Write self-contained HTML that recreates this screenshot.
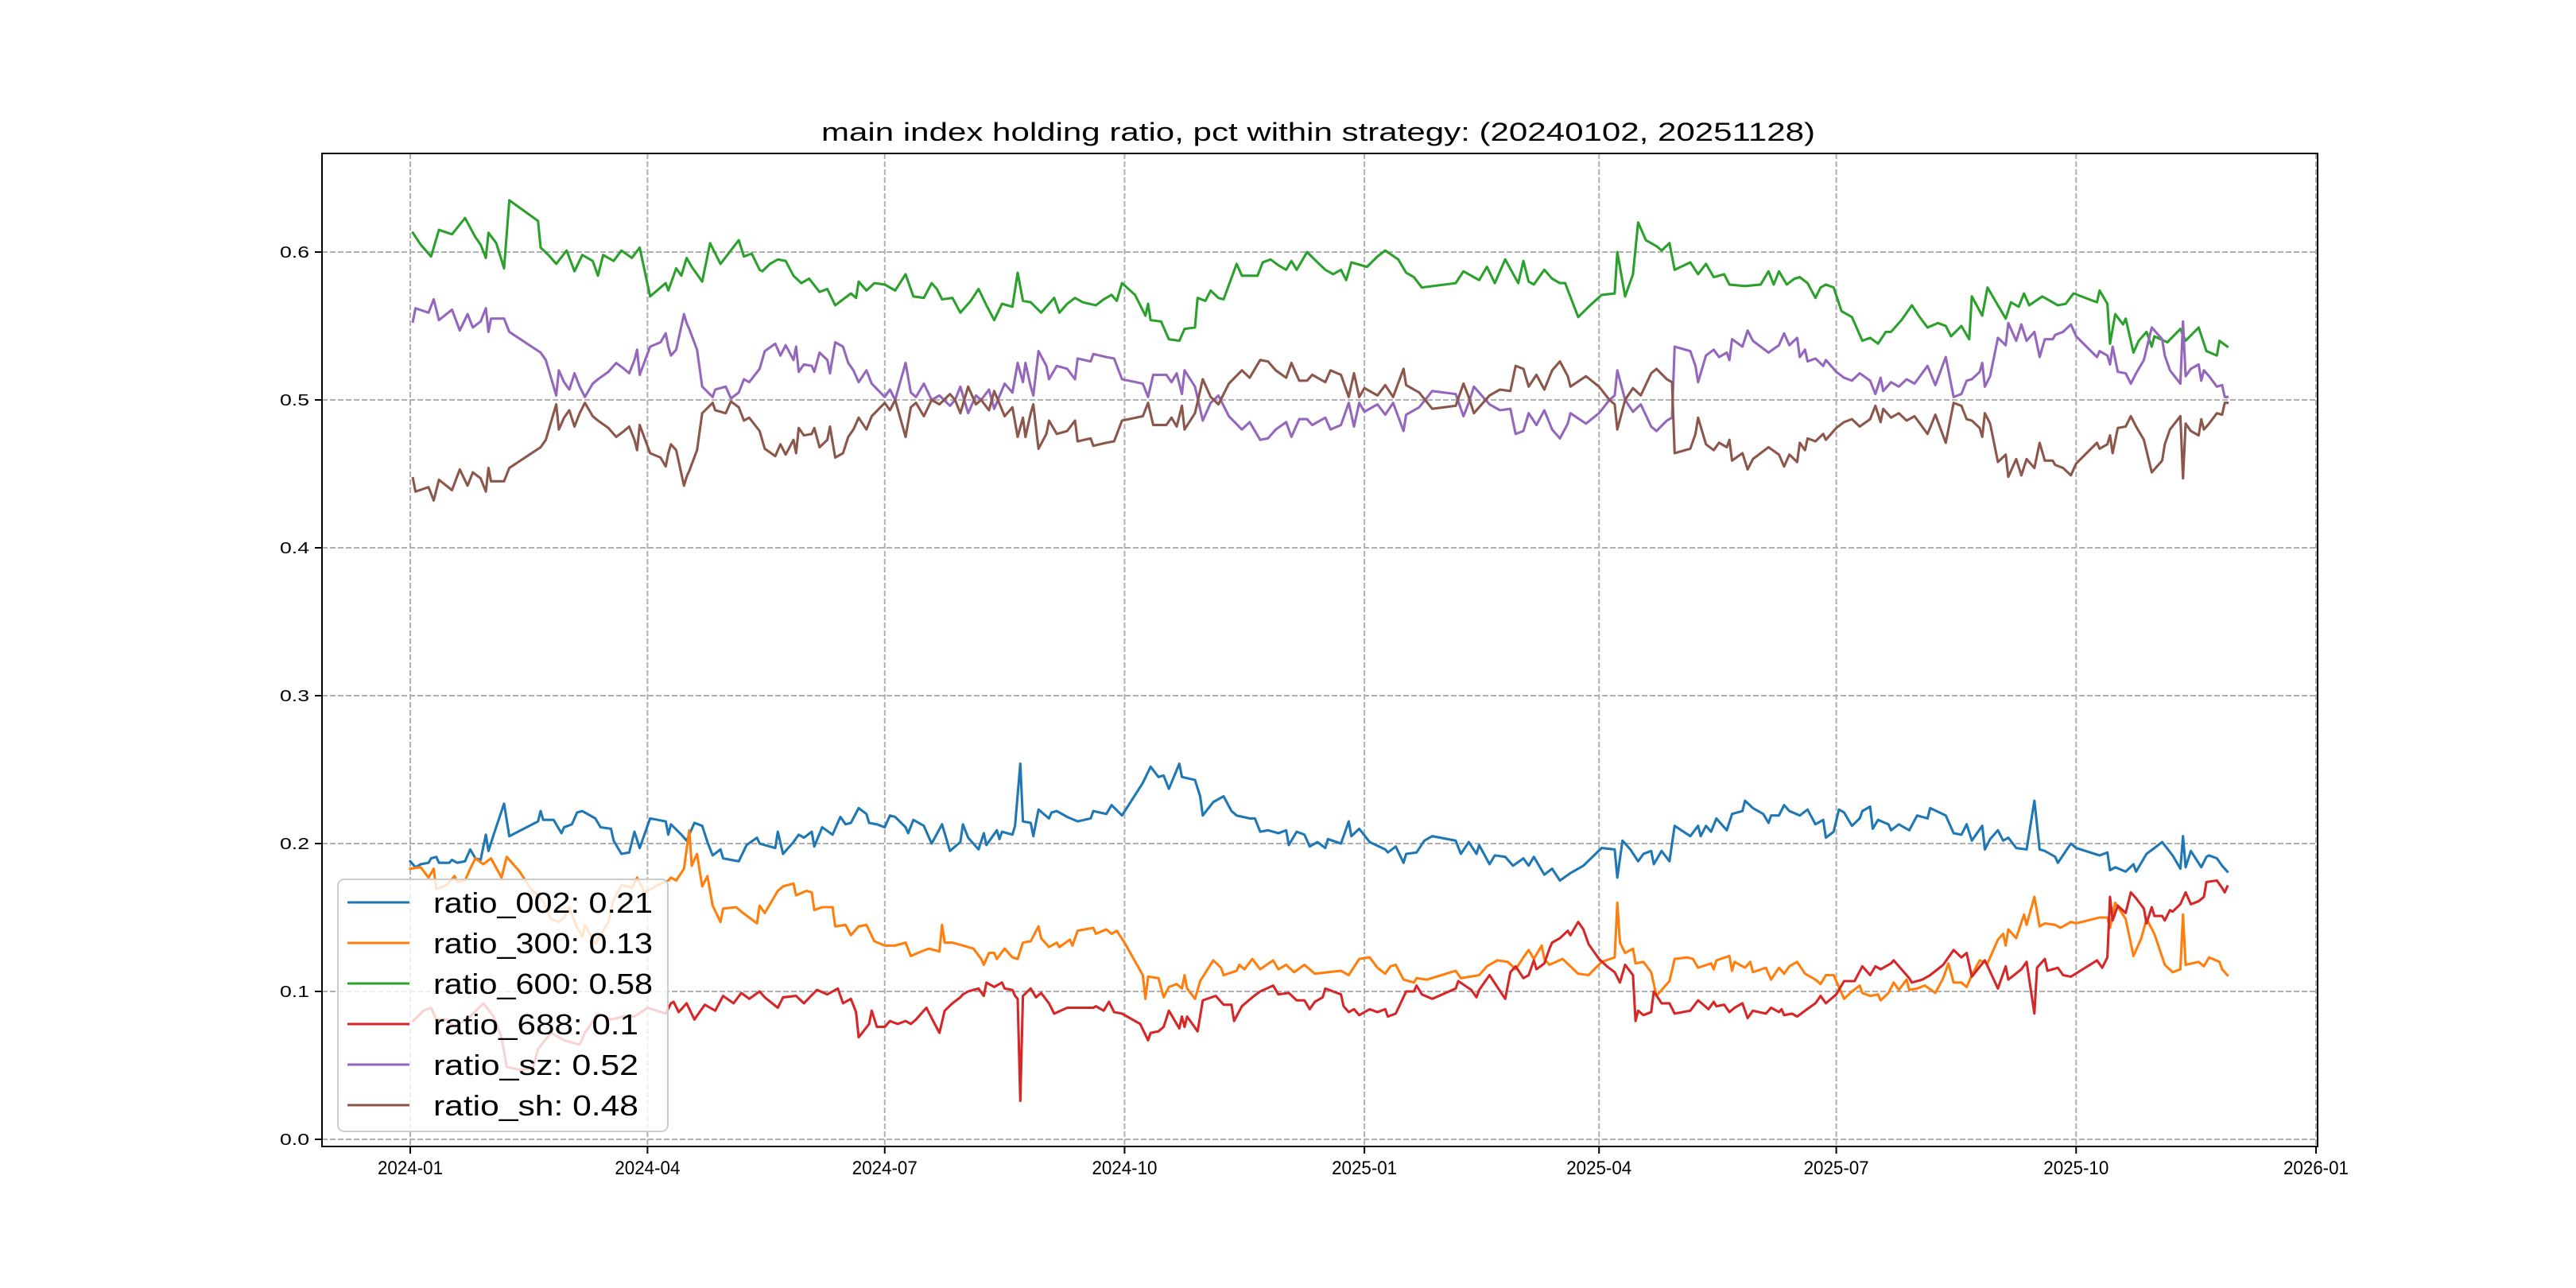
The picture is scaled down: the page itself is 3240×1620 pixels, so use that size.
<!DOCTYPE html>
<html><head><meta charset="utf-8"><title>main index holding ratio</title>
<style>
html,body{margin:0;padding:0;background:#fff;}
svg{display:block;}
text{font-family:"Liberation Sans","WenQuanYi Zen Hei",sans-serif;fill:#000;}
</style></head>
<body>
<svg id="chart" width="3240" height="1620" viewBox="0 0 3240 1620" xmlns="http://www.w3.org/2000/svg">
<rect x="0" y="0" width="3240" height="1620" fill="#fff"/>
<text x="1033" y="177" font-size="32" textLength="1250" lengthAdjust="spacingAndGlyphs">main index holding ratio, pct within strategy: (20240102, 20251128)</text>
<g id="grid"></g>
<g id="series"></g>
<rect x="405" y="193" width="2510" height="1249" fill="none" stroke="#000" stroke-width="2"/>
<g id="ticks"></g>
<g id="legend"></g>
</svg>
<script>
const yTicks = [0.0, 0.1, 0.2, 0.3, 0.4, 0.5, 0.6];
const yTickLabels = ["0.0", "0.1", "0.2", "0.3", "0.4", "0.5", "0.6"];
const xTickDays = [0, 91, 182, 274, 366, 456, 547, 639, 731];
const xTickLabels = ["2024-01", "2024-04", "2024-07", "2024-10", "2025-01", "2025-04", "2025-07", "2025-10", "2026-01"];
const seriesNames = ["ratio_002", "ratio_300", "ratio_600", "ratio_688", "ratio_sz", "ratio_sh"];
const legendValues = ["0.21", "0.13", "0.58", "0.1", "0.52", "0.48"];

const ratio002 = [[0,.188],[2,.184],[4,.186],[7,.187],[8,.190],[10,.191],[11,.187],[15,.187],[16,.189],[18,.187],[21,.188],[23,.196],[25,.190],[27,.189],[29,.206],[30,.195],[32,.206],[36,.227],[38,.205],[49,.215],[50,.222],[51,.216],[55,.216],[58,.207],[59,.211],[62,.213],[64,.221],[66,.222],[71,.217],[73,.211],[77,.210],[78,.202],[81,.193],[84,.194],[86,.208],[88,.197],[92,.217],[98,.215],[99,.206],[100,.213],[104,.206],[106,.202],[109,.214],[112,.212],[114,.201],[116,.192],[119,.196],[120,.190],[126,.188],[129,.199],[133,.204],[134,.200],[136,.199],[140,.197],[141,.208],[143,.193],[147,.201],[149,.206],[151,.204],[154,.208],[155,.198],[158,.211],[162,.206],[165,.218],[167,.213],[169,.214],[172,.224],[175,.220],[176,.214],[179,.213],[182,.211],[184,.219],[186,.218],[190,.211],[191,.207],[193,.216],[197,.212],[200,.200],[204,.213],[207,.195],[211,.201],[212,.213],[214,.204],[218,.196],[220,.207],[221,.199],[225,.209],[226,.203],[227,.208],[231,.206],[232,.212],[234,.254],[235,.215],[238,.214],[239,.205],[241,.223],[245,.217],[246,.221],[248,.222],[252,.218],[256,.215],[261,.217],[262,.222],[267,.220],[269,.226],[273,.219],[281,.241],[284,.252],[287,.245],[289,.246],[291,.237],[295,.254],[296,.245],[301,.243],[303,.232],[304,.219],[308,.228],[312,.232],[315,.222],[317,.219],[322,.217],[324,.217],[326,.208],[329,.209],[333,.207],[336,.209],[337,.199],[340,.208],[343,.206],[345,.198],[348,.201],[351,.197],[352,.203],[357,.200],[359,.210],[360,.215],[361,.205],[364,.210],[368,.201],[374,.196],[375,.194],[378,.198],[381,.187],[382,.193],[386,.194],[389,.202],[392,.205],[401,.202],[403,.193],[406,.201],[409,.193],[410,.199],[414,.186],[416,.192],[420,.191],[423,.185],[427,.190],[429,.185],[431,.191],[435,.179],[438,.183],[441,.175],[445,.180],[450,.185],[457,.197],[462,.196],[463,.177],[465,.202],[468,.196],[471,.188],[473,.193],[476,.195],[477,.186],[480,.195],[483,.188],[485,.212],[491,.205],[494,.212],[495,.205],[497,.212],[499,.208],[501,.217],[505,.209],[507,.220],[511,.222],[512,.229],[515,.224],[519,.220],[521,.214],[522,.219],[525,.219],[527,.226],[529,.222],[533,.219],[536,.223],[539,.213],[542,.216],[543,.204],[546,.208],[548,.223],[550,.221],[553,.212],[556,.217],[557,.222],[560,.225],[561,.210],[563,.216],[567,.213],[568,.209],[571,.213],[575,.209],[578,.219],[582,.217],[583,.224],[589,.219],[592,.207],[595,.206],[597,.213],[599,.202],[603,.212],[604,.196],[606,.203],[609,.209],[611,.202],[613,.204],[616,.197],[620,.196],[623,.229],[625,.196],[627,.195],[631,.191],[632,.187],[637,.200],[639,.197],[648,.192],[651,.194],[652,.182],[654,.184],[658,.181],[661,.186],[662,.181],[666,.193],[669,.197],[672,.201],[676,.192],[679,.183],[680,.205],[681,.184],[683,.195],[687,.184],[689,.191],[690,.192],[693,.190],[695,.185],[697,.181]];

const ratio300 = [[0,.183],[4,.184],[7,.177],[9,.183],[10,.169],[14,.172],[17,.178],[18,.174],[21,.175],[23,.183],[25,.190],[28,.186],[31,.190],[35,.177],[37,.191],[42,.181],[46,.170],[51,.161],[54,.149],[57,.147],[59,.150],[61,.157],[64,.143],[66,.137],[67,.145],[71,.132],[76,.147],[78,.162],[81,.172],[85,.170],[87,.177],[90,.167],[95,.172],[99,.175],[100,.177],[102,.175],[105,.183],[107,.209],[108,.185],[110,.193],[112,.171],[114,.178],[116,.158],[119,.147],[120,.156],[125,.157],[127,.154],[133,.146],[134,.158],[136,.153],[141,.168],[143,.171],[147,.173],[148,.165],[152,.168],[154,.167],[155,.155],[158,.157],[162,.157],[163,.144],[167,.145],[169,.138],[172,.144],[175,.145],[178,.134],[182,.131],[186,.131],[190,.133],[192,.124],[196,.127],[199,.129],[203,.127],[204,.145],[205,.133],[208,.133],[212,.131],[216,.129],[219,.122],[220,.118],[222,.126],[224,.126],[225,.122],[228,.129],[231,.123],[233,.122],[235,.133],[238,.134],[241,.144],[242,.136],[245,.130],[248,.133],[249,.130],[253,.135],[254,.131],[256,.141],[262,.143],[263,.139],[267,.142],[269,.139],[271,.141],[274,.133],[281,.111],[282,.095],[283,.110],[287,.109],[289,.096],[291,.103],[294,.105],[296,.102],[297,.111],[298,.102],[301,.095],[303,.107],[308,.121],[311,.116],[312,.111],[317,.114],[318,.118],[320,.115],[323,.122],[326,.115],[331,.121],[333,.115],[336,.118],[339,.113],[343,.118],[347,.112],[352,.113],[357,.114],[360,.111],[364,.122],[368,.123],[371,.116],[374,.112],[376,.117],[378,.118],[381,.108],[385,.106],[386,.109],[390,.108],[401,.114],[403,.109],[410,.111],[413,.117],[417,.121],[421,.120],[424,.115],[427,.123],[429,.128],[431,.122],[434,.131],[435,.122],[437,.118],[442,.122],[445,.117],[448,.112],[452,.111],[457,.120],[462,.123],[463,.160],[464,.133],[466,.126],[469,.129],[470,.119],[473,.120],[476,.113],[478,.097],[480,.101],[483,.107],[485,.122],[490,.123],[492,.122],[494,.116],[499,.119],[500,.115],[501,.121],[506,.124],[507,.114],[508,.120],[512,.116],[514,.120],[515,.113],[520,.116],[522,.108],[525,.116],[527,.112],[529,.117],[532,.120],[535,.112],[539,.108],[541,.105],[543,.111],[546,.111],[550,.095],[553,.100],[556,.104],[557,.099],[560,.097],[563,.098],[564,.094],[567,.099],[569,.106],[571,.101],[574,.108],[575,.101],[578,.102],[581,.104],[585,.099],[588,.109],[590,.119],[592,.106],[595,.106],[597,.103],[599,.111],[602,.121],[605,.119],[609,.135],[611,.139],[612,.131],[613,.142],[616,.136],[619,.152],[620,.145],[623,.164],[625,.144],[627,.146],[631,.145],[633,.143],[637,.147],[639,.146],[648,.150],[651,.150],[652,.143],[654,.160],[658,.149],[661,.124],[664,.136],[666,.149],[669,.139],[673,.118],[676,.113],[679,.115],[680,.152],[681,.118],[686,.120],[688,.117],[690,.123],[694,.120],[695,.115],[697,.111]];

const ratio600 = [[1,.613],[4,.605],[8,.597],[11,.615],[16,.612],[21,.623],[25,.610],[27,.605],[29,.596],[30,.613],[33,.606],[36,.589],[38,.635],[49,.621],[50,.603],[53,.598],[56,.592],[60,.601],[63,.587],[66,.598],[70,.594],[72,.584],[74,.598],[78,.594],[81,.601],[85,.596],[88,.603],[92,.570],[98,.579],[99,.574],[102,.589],[104,.584],[106,.596],[108,.590],[112,.580],[115,.606],[119,.592],[126,.608],[128,.597],[131,.599],[134,.588],[135,.587],[138,.592],[141,.595],[144,.594],[147,.584],[150,.579],[153,.582],[157,.573],[160,.575],[163,.564],[169,.572],[171,.569],[172,.580],[175,.574],[178,.579],[182,.578],[186,.574],[190,.585],[193,.570],[197,.569],[200,.579],[202,.575],[204,.568],[208,.569],[211,.559],[215,.567],[218,.575],[221,.564],[224,.554],[227,.565],[231,.563],[233,.586],[235,.567],[238,.566],[242,.559],[247,.569],[249,.559],[252,.565],[255,.569],[258,.566],[263,.564],[266,.568],[269,.571],[271,.567],[273,.579],[278,.571],[282,.557],[283,.565],[284,.554],[288,.553],[291,.541],[295,.540],[297,.548],[301,.549],[302,.569],[305,.567],[307,.574],[310,.569],[312,.568],[317,.592],[319,.584],[325,.584],[327,.593],[330,.595],[333,.591],[336,.588],[338,.594],[340,.588],[344,.600],[348,.593],[351,.588],[354,.585],[357,.588],[359,.581],[361,.593],[365,.591],[367,.590],[371,.597],[374,.601],[379,.595],[382,.586],[385,.583],[388,.576],[401,.579],[404,.587],[408,.583],[410,.581],[413,.590],[416,.579],[420,.595],[425,.579],[427,.594],[429,.580],[431,.578],[435,.588],[438,.582],[441,.579],[443,.579],[448,.556],[452,.563],[457,.571],[462,.572],[463,.600],[466,.570],[469,.585],[471,.620],[474,.608],[478,.604],[480,.601],[483,.606],[485,.588],[491,.593],[494,.585],[497,.592],[500,.583],[504,.585],[506,.578],[512,.577],[518,.578],[521,.587],[523,.578],[525,.587],[528,.578],[531,.582],[533,.583],[536,.579],[539,.569],[541,.576],[543,.578],[546,.576],[549,.560],[553,.556],[557,.540],[560,.542],[563,.538],[566,.546],[568,.546],[572,.554],[576,.564],[579,.556],[582,.549],[586,.552],[589,.550],[591,.543],[595,.550],[598,.541],[599,.570],[603,.557],[605,.576],[608,.567],[612,.555],[614,.566],[617,.563],[619,.572],[621,.564],[626,.570],[629,.567],[632,.564],[635,.565],[638,.572],[647,.566],[648,.574],[651,.565],[652,.538],[654,.558],[657,.551],[658,.555],[661,.532],[663,.540],[666,.546],[668,.536],[669,.543],[674,.539],[679,.548],[681,.540],[686,.549],[689,.533],[693,.530],[694,.540],[697,.536]];

const ratio688 = [[1,.080],[4,.085],[5,.087],[8,.089],[10,.081],[14,.081],[17,.076],[23,.083],[28,.092],[32,.083],[35,.069],[37,.049],[42,.047],[47,.048],[49,.061],[54,.072],[59,.067],[65,.064],[67,.072],[72,.085],[77,.081],[82,.083],[86,.083],[91,.089],[98,.085],[100,.092],[101,.093],[103,.086],[106,.092],[109,.081],[113,.091],[117,.087],[120,.097],[124,.092],[127,.099],[130,.095],[134,.100],[136,.096],[141,.089],[143,.096],[148,.097],[151,.092],[156,.101],[160,.098],[164,.102],[166,.092],[169,.095],[171,.086],[172,.069],[176,.078],[177,.087],[179,.076],[182,.076],[184,.080],[187,.078],[190,.080],[192,.078],[194,.081],[198,.089],[200,.082],[203,.072],[205,.087],[208,.092],[211,.096],[212,.098],[214,.100],[218,.102],[220,.097],[221,.106],[224,.103],[227,.106],[228,.102],[231,.101],[232,.097],[233,.095],[234,.026],[235,.097],[238,.102],[240,.096],[242,.099],[245,.092],[247,.085],[252,.089],[256,.089],[262,.089],[263,.090],[266,.087],[268,.093],[270,.086],[273,.085],[280,.078],[283,.067],[284,.072],[287,.073],[289,.076],[291,.087],[295,.075],[296,.083],[297,.076],[298,.083],[302,.073],[304,.094],[309,.097],[312,.091],[315,.091],[316,.080],[319,.090],[323,.096],[326,.100],[331,.104],[333,.098],[337,.099],[340,.094],[343,.094],[345,.088],[347,.093],[350,.096],[351,.102],[357,.098],[358,.090],[360,.086],[362,.088],[364,.084],[368,.088],[371,.086],[374,.088],[375,.083],[378,.085],[382,.100],[385,.100],[386,.104],[388,.098],[392,.095],[401,.102],[402,.107],[407,.101],[409,.096],[410,.101],[414,.111],[417,.103],[420,.095],[422,.113],[424,.117],[427,.109],[429,.111],[431,.121],[432,.115],[435,.119],[437,.129],[438,.133],[441,.136],[444,.141],[445,.138],[448,.147],[450,.142],[452,.132],[456,.122],[459,.117],[462,.113],[464,.106],[466,.118],[469,.111],[470,.080],[471,.087],[473,.084],[476,.086],[477,.100],[480,.092],[483,.092],[485,.085],[491,.087],[494,.094],[498,.088],[500,.093],[501,.090],[504,.091],[506,.086],[508,.089],[511,.092],[513,.082],[515,.087],[520,.085],[522,.089],[525,.086],[526,.088],[527,.084],[530,.085],[532,.083],[535,.087],[539,.092],[541,.097],[543,.092],[547,.098],[550,.107],[554,.107],[557,.117],[560,.111],[562,.117],[564,.115],[568,.119],[569,.121],[572,.115],[575,.109],[576,.106],[580,.108],[583,.111],[588,.118],[592,.128],[595,.123],[597,.126],[599,.110],[604,.121],[609,.102],[612,.117],[613,.108],[618,.115],[620,.120],[623,.085],[624,.116],[627,.122],[628,.114],[632,.116],[634,.111],[637,.110],[647,.121],[649,.116],[651,.123],[652,.164],[653,.148],[655,.158],[658,.153],[660,.167],[662,.163],[665,.156],[666,.146],[668,.157],[669,.151],[672,.151],[673,.148],[675,.155],[676,.154],[679,.159],[681,.167],[683,.159],[686,.161],[688,.164],[689,.174],[693,.175],[695,.170],[696,.167],[697,.171]];

const ratioSz = [[1,.553],[2,.562],[7,.559],[9,.568],[11,.554],[16,.561],[19,.547],[22,.558],[24,.549],[27,.553],[29,.562],[30,.546],[31,.555],[36,.555],[38,.546],[50,.532],[52,.527],[56,.503],[57,.520],[59,.512],[61,.507],[63,.518],[65,.509],[67,.502],[70,.511],[72,.514],[76,.519],[79,.525],[82,.521],[84,.518],[86,.527],[87,.534],[88,.517],[92,.536],[96,.539],[98,.545],[99,.536],[100,.530],[102,.534],[105,.558],[106,.552],[107,.548],[110,.534],[112,.509],[116,.502],[117,.507],[121,.509],[123,.501],[126,.505],[128,.514],[130,.512],[134,.521],[136,.533],[140,.538],[142,.530],[144,.537],[147,.527],[148,.536],[149,.519],[151,.524],[154,.523],[155,.519],[157,.532],[160,.527],[161,.518],[163,.539],[166,.536],[168,.525],[170,.520],[172,.512],[175,.520],[177,.511],[182,.502],[184,.507],[186,.500],[190,.525],[192,.505],[194,.502],[197,.511],[200,.500],[203,.503],[207,.496],[209,.500],[211,.509],[214,.491],[217,.503],[219,.500],[222,.507],[224,.494],[228,.511],[231,.505],[233,.525],[235,.512],[236,.525],[238,.509],[239,.503],[241,.533],[244,.523],[245,.514],[248,.523],[252,.521],[255,.514],[256,.528],[261,.526],[262,.531],[267,.529],[270,.528],[273,.514],[281,.511],[283,.502],[285,.517],[290,.517],[292,.512],[294,.518],[296,.504],[297,.520],[301,.509],[304,.486],[307,.498],[310,.503],[314,.489],[319,.480],[322,.485],[326,.473],[329,.474],[332,.480],[336,.485],[338,.475],[341,.487],[344,.487],[346,.483],[351,.488],[353,.480],[357,.483],[360,.498],[362,.482],[364,.498],[366,.492],[371,.497],[374,.490],[377,.498],[381,.479],[382,.490],[387,.495],[392,.506],[401,.504],[404,.489],[406,.498],[408,.509],[414,.497],[418,.493],[422,.494],[424,.477],[427,.479],[429,.491],[432,.483],[435,.493],[438,.480],[441,.474],[444,.484],[445,.491],[451,.484],[456,.491],[460,.500],[462,.503],[463,.520],[466,.500],[469,.492],[472,.497],[476,.482],[478,.479],[482,.486],[484,.488],[485,.536],[491,.533],[493,.523],[494,.512],[497,.530],[500,.534],[502,.529],[505,.532],[506,.527],[507,.541],[511,.536],[513,.547],[515,.540],[521,.532],[525,.537],[527,.545],[529,.537],[532,.542],[533,.529],[535,.534],[536,.526],[539,.528],[542,.523],[543,.527],[547,.519],[550,.515],[553,.513],[556,.518],[560,.513],[562,.504],[564,.515],[565,.506],[568,.512],[571,.509],[574,.514],[577,.511],[582,.523],[585,.510],[589,.529],[592,.502],[595,.504],[597,.513],[599,.514],[602,.519],[603,.525],[604,.509],[606,.516],[609,.542],[612,.537],[613,.552],[616,.540],[618,.551],[620,.540],[623,.546],[625,.529],[627,.541],[630,.541],[631,.544],[634,.546],[637,.551],[639,.543],[647,.529],[648,.533],[651,.530],[652,.524],[653,.536],[655,.519],[658,.518],[660,.511],[662,.518],[665,.527],[668,.549],[672,.541],[673,.530],[675,.520],[679,.511],[680,.553],[681,.516],[683,.521],[686,.524],[687,.513],[688,.520],[690,.516],[693,.509],[695,.510],[696,.502],[697,.502]];

const ratioSh = [[1,.447],[2,.438],[7,.441],[9,.432],[11,.446],[16,.439],[19,.453],[22,.442],[24,.451],[27,.447],[29,.438],[30,.454],[31,.445],[36,.445],[38,.454],[50,.468],[52,.473],[56,.497],[57,.480],[59,.488],[61,.493],[63,.482],[65,.491],[67,.498],[70,.489],[72,.486],[76,.481],[79,.475],[82,.479],[84,.482],[86,.473],[87,.466],[88,.483],[92,.464],[96,.461],[98,.455],[99,.464],[100,.470],[102,.466],[105,.442],[106,.448],[107,.452],[110,.466],[112,.491],[116,.498],[117,.493],[121,.491],[123,.499],[126,.495],[128,.486],[130,.488],[134,.479],[136,.467],[140,.462],[142,.470],[144,.463],[147,.473],[148,.464],[149,.481],[151,.476],[154,.477],[155,.481],[157,.468],[160,.473],[161,.482],[163,.461],[166,.464],[168,.475],[170,.480],[172,.488],[175,.480],[177,.489],[182,.498],[184,.493],[186,.500],[190,.475],[192,.495],[194,.498],[197,.489],[200,.500],[203,.497],[207,.504],[209,.500],[211,.491],[214,.509],[217,.497],[219,.500],[222,.493],[224,.506],[228,.489],[231,.495],[233,.475],[235,.488],[236,.475],[238,.491],[239,.497],[241,.467],[244,.477],[245,.486],[248,.477],[252,.479],[255,.486],[256,.472],[261,.474],[262,.469],[267,.471],[270,.472],[273,.486],[281,.489],[283,.498],[285,.483],[290,.483],[292,.488],[294,.482],[296,.496],[297,.480],[301,.491],[304,.514],[307,.502],[310,.497],[314,.511],[319,.520],[322,.515],[326,.527],[329,.526],[332,.520],[336,.515],[338,.525],[341,.513],[344,.513],[346,.517],[351,.512],[353,.520],[357,.517],[360,.502],[362,.518],[364,.502],[366,.508],[371,.503],[374,.510],[377,.502],[381,.521],[382,.510],[387,.505],[392,.494],[401,.496],[404,.511],[406,.502],[408,.491],[414,.503],[418,.507],[422,.506],[424,.523],[427,.521],[429,.509],[432,.517],[435,.507],[438,.520],[441,.526],[444,.516],[445,.509],[451,.516],[456,.509],[460,.500],[462,.497],[463,.480],[466,.500],[469,.508],[472,.503],[476,.518],[478,.521],[482,.514],[484,.512],[485,.464],[491,.467],[493,.477],[494,.488],[497,.470],[500,.466],[502,.471],[505,.468],[506,.473],[507,.459],[511,.464],[513,.453],[515,.460],[521,.468],[525,.463],[527,.455],[529,.463],[532,.458],[533,.471],[535,.466],[536,.474],[539,.472],[542,.477],[543,.473],[547,.481],[550,.485],[553,.487],[556,.482],[560,.487],[562,.496],[564,.485],[565,.494],[568,.488],[571,.491],[574,.486],[577,.489],[582,.477],[585,.490],[589,.471],[592,.498],[595,.496],[597,.487],[599,.486],[602,.481],[603,.475],[604,.491],[606,.484],[609,.458],[612,.463],[613,.448],[616,.460],[618,.449],[620,.460],[623,.454],[625,.471],[627,.459],[630,.459],[631,.456],[634,.454],[637,.449],[639,.457],[647,.471],[648,.467],[651,.470],[652,.476],[653,.464],[655,.481],[658,.482],[660,.489],[662,.482],[665,.473],[668,.451],[672,.459],[673,.470],[675,.480],[679,.489],[680,.447],[681,.484],[683,.479],[686,.476],[687,.487],[688,.480],[690,.484],[693,.491],[695,.490],[696,.498],[697,.498]];

const seriesColors = ["#1f77b4", "#ff7f0e", "#2ca02c", "#d62728", "#9467bd", "#8c564b"];
const allSeries = [ratio002, ratio300, ratio600, ratio688, ratioSz, ratioSh];

const SVGNS = "http://www.w3.org/2000/svg";
const PLOT = {left: 405, right: 2915, top: 193, bottom: 1442};
const X0 = 516, PX_PER_DAY = 3.279;
const Y0 = 1433, PX_PER_UNIT = 1860;
function xScale(day) { return X0 + day * PX_PER_DAY; }
function yScale(v) { return Y0 - v * PX_PER_UNIT; }
function mk(tag, attrs, parent) {
  const e = document.createElementNS(SVGNS, tag);
  for (const k in attrs) e.setAttribute(k, attrs[k]);
  parent.appendChild(e);
  return e;
}

const grid = document.getElementById("grid");
const ticks = document.getElementById("ticks");
xTickDays.forEach((d, i) => {
  const x = xScale(d);
  const gl = mk("line", {x1: x, x2: x, y1: PLOT.top, y2: PLOT.bottom, stroke: "#b0b0b0", "stroke-width": 2, "stroke-dasharray": "7,3"}, grid);
  
  
  const tk = mk("line", {x1: x, x2: x, y1: PLOT.bottom, y2: PLOT.bottom + 9, stroke: "#000", "stroke-width": 2}, ticks);
  
  
  const tl = mk("text", {x: x, y: 1477, "font-size": 24, "text-anchor": "middle", textLength: 82, lengthAdjust: "spacingAndGlyphs"}, ticks);
  tl.textContent = xTickLabels[i];
  
  
});
yTicks.forEach((v, i) => {
  const y = yScale(v);
  const gl = mk("line", {x1: PLOT.left, x2: PLOT.right, y1: y, y2: y, stroke: "#b0b0b0", "stroke-width": 2, "stroke-dasharray": "7,3"}, grid);
  
  
  const tk = mk("line", {x1: PLOT.left - 9, x2: PLOT.left, y1: y, y2: y, stroke: "#000", "stroke-width": 2}, ticks);
  
  
  const tl = mk("text", {x: 389, y: y + 7, "font-size": 20, "text-anchor": "end", textLength: 37, lengthAdjust: "spacingAndGlyphs"}, ticks);
  tl.textContent = yTickLabels[i];
  
  
});

const seriesG = document.getElementById("series");
allSeries.forEach((pts, i) => {
  const d = pts.map((p, j) => (j ? "L" : "M") + xScale(p[0]).toFixed(1) + "," + yScale(p[1]).toFixed(1)).join("");
  const path = mk("path", {d: d, fill: "none", stroke: seriesColors[i], "stroke-width": 3.1, "stroke-linejoin": "round", "stroke-linecap": "square"}, seriesG);
  
  
});

const legend = document.getElementById("legend");
const box = mk("rect", {x: 425, y: 1106, width: 415, height: 317, rx: 8, ry: 8, fill: "#fff", "fill-opacity": 0.8, stroke: "#cccccc", "stroke-width": 2}, legend);


seriesNames.forEach((n, i) => {
  const y = 1135 + i * 51;
  const ln = mk("line", {x1: 437, x2: 515, y1: y, y2: y, stroke: seriesColors[i], "stroke-width": 3.1}, legend);
  
  
  const label = n + ": " + legendValues[i];
  const t = mk("text", {x: 545, y: y + 13, "font-size": 36, textLength: (label.length * 18.4).toFixed(0), lengthAdjust: "spacingAndGlyphs"}, legend);
  t.textContent = label;
  
  
});
</script>
</body></html>
